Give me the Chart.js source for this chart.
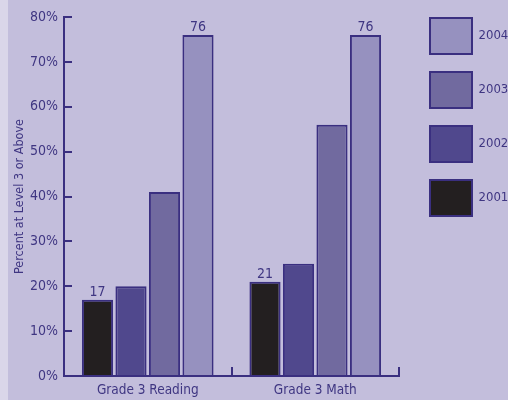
<!DOCTYPE html>
<html>
<head>
<meta charset="utf-8">
<script src="https://cdn.jsdelivr.net/npm/chart.js@4"></script>
<style>
  html,body{margin:0;padding:0;background:#C3BEDC;}
  canvas{display:block;}
</style>
</head>
<body>
<canvas id="chart" width="508" height="400"></canvas>
<script>
/* ===== data ===== */
const categories=['Grade 3 Reading','Grade 3 Math'];
const years=['2001','2002','2003','2004'];
const v2001=[17,21];
const v2002=[20,25];
const v2003=[41,56];
const v2004=[76,76];
const yTicks=[0,10,20,30,40,50,60,70,80];
const labeledYears=['2001','2004'];   // bars that carry a value on top

/* ===== styles ===== */
const FONT="'Liberation Sans Narrow','DejaVu Sans Condensed','Arial Narrow',sans-serif";
const INK='#3F3682';
const EDGE='#3A2F80';
const fills={'2001':'#231F20','2002':'#50488D','2003':'#716A9F','2004':'#9691BF'};
const seriesVals={'2001':v2001,'2002':v2002,'2003':v2003,'2004':v2004};

/* ===== plugins ===== */
const bgPlugin={
  id:'bg',
  beforeDraw(c){
    const ctx=c.ctx;
    ctx.save();
    ctx.fillStyle='#C3BEDC'; ctx.fillRect(0,0,c.width,c.height);
    ctx.fillStyle='#DAD6E9'; ctx.fillRect(0,0,8,c.height);
    ctx.restore();
  }
};
const valuePlugin={
  id:'vals',
  afterDatasetsDraw(c){
    const ctx=c.ctx;
    ctx.save();
    ctx.font='14px '+FONT; ctx.fillStyle=INK;
    ctx.textAlign='center'; ctx.textBaseline='alphabetic';
    c.data.datasets.forEach((ds,i)=>{
      if(!labeledYears.includes(ds.label)) return;
      c.getDatasetMeta(i).data.forEach((bar,j)=>{
        ctx.fillText(String(ds.data[j]), bar.x, bar.y-4);
      });
    });
    ctx.restore();
  }
};

/* ===== chart ===== */
new Chart(document.getElementById('chart'),{
  type:'bar',
  data:{
    labels:categories,
    datasets:years.map(y=>({
      label:y,
      data:seriesVals[y],
      backgroundColor:fills[y],
      borderColor:EDGE,
      borderWidth:2,
      categoryPercentage:0.8,
      barPercentage:0.93
    }))
  },
  options:{
    responsive:false,
    animation:false,
    layout:{padding:0},
    plugins:{
      tooltip:{enabled:false},
      legend:{
        position:'right',
        align:'start',
        reverse:true,
        maxWidth:96,
        labels:{
          boxWidth:42, boxHeight:36, padding:18,
          color:INK, font:{family:FONT,size:13}
        }
      }
    },
    scales:{
      x:{
        position:'bottom',
        grid:{display:true,drawOnChartArea:false,drawTicks:true,tickLength:-9,color:EDGE,lineWidth:2,offset:true},
        border:{display:true,color:EDGE,width:2},
        ticks:{color:INK,font:{family:FONT,size:13.5},padding:15,maxRotation:0},
        afterFit(s){ s.height=24; }
      },
      x2:{
        position:'top',
        grid:{display:false},
        border:{display:false},
        ticks:{display:false},
        afterFit(s){ s.height=17; }
      },
      y:{
        position:'left',
        min:0, max:80,
        afterBuildTicks(s){ s.ticks=yTicks.map(v=>({value:v})); },
        grid:{display:true,drawOnChartArea:false,drawTicks:true,tickLength:-8,color:EDGE,lineWidth:2},
        border:{display:true,color:EDGE,width:2},
        ticks:{color:INK,font:{family:FONT,size:14},padding:14,callback:v=>v+'%'},
        title:{display:true,text:'Percent at Level 3 or Above',color:INK,font:{family:FONT,size:12.5},padding:{top:12,bottom:0}},
        afterFit(s){ s.width=64; s.paddingTop=8; s.paddingBottom=8; }
      },
      y2:{
        type:'linear',
        position:'right',
        grid:{display:false},
        border:{display:false},
        ticks:{display:false},
        afterFit(s){ s.width=13; }
      }
    }
  },
  plugins:[bgPlugin,valuePlugin]
});
</script>
</body>
</html>
